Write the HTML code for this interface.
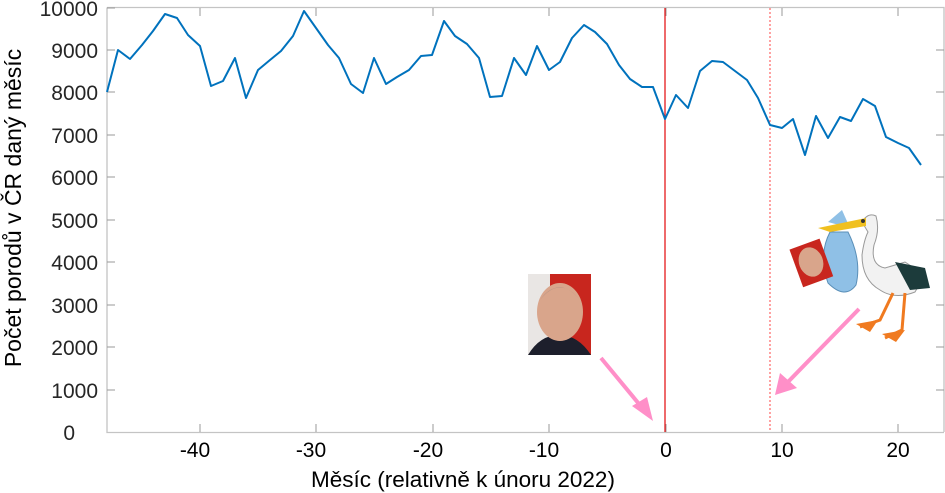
<!DOCTYPE html>
<html><head><meta charset="utf-8"><style>
html,body{margin:0;padding:0;background:#fff;width:945px;height:493px;overflow:hidden}
svg{display:block;font-family:"Liberation Sans",Arial,sans-serif}
</style></head><body>
<svg width="945" height="493" viewBox="0 0 945 493">
<rect width="945" height="493" fill="#fff"/>
<path d="M107,7.5 H944 V432 M107,7.5 V432.5 H944" fill="none" stroke="#c4c4c4" stroke-width="1.3"/>
<g stroke="#999" stroke-width="1">
<path d="M200,432 v-8 M316,432 v-8 M433,432 v-8 M549,432 v-8 M666,432 v-8 M782,432 v-8 M898,432 v-8"/>
<path d="M200,8 v8 M316,8 v8 M433,8 v8 M549,8 v8 M666,8 v8 M782,8 v8 M898,8 v8"/>
<path d="M107,8 h8 M107,50 h8 M107,92 h8 M107,135 h8 M107,177 h8 M107,220 h8 M107,262 h8 M107,305 h8 M107,347 h8 M107,390 h8"/>
<path d="M944,50 h-8 M944,92 h-8 M944,135 h-8 M944,177 h-8 M944,220 h-8 M944,262 h-8 M944,305 h-8 M944,347 h-8 M944,390 h-8"/>
</g>
<g font-size="21" fill="#262626" text-anchor="end">
<text x="98" y="16">10000</text><text x="98" y="58">9000</text><text x="98" y="100">8000</text><text x="98" y="143">7000</text><text x="98" y="185">6000</text><text x="98" y="228">5000</text><text x="98" y="270">4000</text><text x="98" y="313">3000</text><text x="98" y="355">2000</text><text x="98" y="398">1000</text><text x="75" y="440">0</text>
</g>
<g font-size="21" fill="#000" text-anchor="middle">
<text x="195" y="457">-40</text><text x="311" y="457">-30</text><text x="428" y="457">-20</text><text x="544" y="457">-10</text><text x="666" y="457">0</text><text x="782" y="457">10</text><text x="898" y="457">20</text>
</g>
<text x="463" y="487" font-size="22.5" text-anchor="middle" fill="#000">Měsíc (relativně k únoru 2022)</text>
<text transform="translate(21,208) rotate(-90)" font-size="23" text-anchor="middle" fill="#000">Počet porodů v ČR daný měsíc</text>
<line x1="665" y1="8" x2="665" y2="432" stroke="#e41a1c" stroke-width="1.3"/>
<line x1="770" y1="8" x2="770" y2="432" stroke="#ff6f6f" stroke-width="1.3" stroke-dasharray="2,2"/>
<polyline fill="none" stroke="#0072bd" stroke-width="2" stroke-linejoin="round" points="107,92 118,50 130,59 142,45 153,31 165,14 177,18 188,35 200,46 211,86 223,81 235,58 246,98 258,70 270,60 281,51 293,36 304,11 316,28 328,45 339,58 351,84 363,93 374,58 386,84 397,77 409,70 421,56 432,55 444,21 455,36 467,44 479,58 490,97 502,96 514,58 526,75 537,46 549,70 560,62 572,38 584,25 595,32 607,44 619,65 630,79 642,87 653,87 665,119 676,95 688,108 700,71 712,61 723,62 735,71 747,80 758,98 770,125 782,128 793,119 805,155 816,116 828,138 840,117 851,121 863,99 875,106 886,137 898,143 909,148 921,165"/>
<rect x="528" y="274" width="63" height="81" fill="#c8261e"/>
<rect x="528" y="274" width="22" height="81" fill="#e9e6e4"/>
<path d="M528,355 Q540,335 559,335 Q578,335 591,355 Z" fill="#1d1f2c"/>
<ellipse cx="560" cy="312" rx="23" ry="29" fill="#d9a58b"/>
<path d="M540,300 Q560,275 580,300 Q570,288 560,287 Q548,288 540,300Z" fill="#b89585"/>
<g stroke="#ff8fc8" stroke-width="4" fill="#ff8fc8">
<line x1="601" y1="358" x2="644" y2="410"/>
<line x1="859" y1="309" x2="786" y2="384"/>
</g>
<polygon points="653,421 632,406 647,397" fill="#ff8fc8"/>
<polygon points="775,395 780,373 797,388" fill="#ff8fc8"/>
<g>
<path d="M830,232 Q818,255 828,283 Q845,300 856,285 Q862,260 848,232Z" fill="#8fc0e6" stroke="#5a8fb8" stroke-width="1"/>
<path d="M828,222 L842,210 L850,228 Z" fill="#8fc0e6"/>
<path d="M862,222 Q868,212 876,216 Q880,230 874,245 Q870,265 885,268 L905,262 L925,275 L915,292 Q895,300 880,290 Q862,280 862,255 Q864,240 868,232Z" fill="#f2f2f2" stroke="#999" stroke-width="1"/>
<path d="M895,262 L925,268 L930,288 L910,290Z" fill="#1c3b3b"/>
<path d="M866,218 L818,228 L830,232 L866,226Z" fill="#f0c020"/>
<circle cx="863" cy="221" r="2" fill="#333"/>
<g stroke="#f07a20" stroke-width="3" fill="none">
<path d="M893,293 L880,320 L860,327"/><path d="M905,293 L902,330 L885,338"/>
</g>
<polygon points="856,324 878,320 870,332" fill="#f07a20"/>
<polygon points="882,334 905,330 896,342" fill="#f07a20"/>
<g transform="rotate(-20 811 262)">
<rect x="795" y="243" width="32" height="40" fill="#c8261e"/>
<ellipse cx="811" cy="262" rx="12" ry="15" fill="#d9a58b"/>
</g>
</g>
</svg>
</body></html>
